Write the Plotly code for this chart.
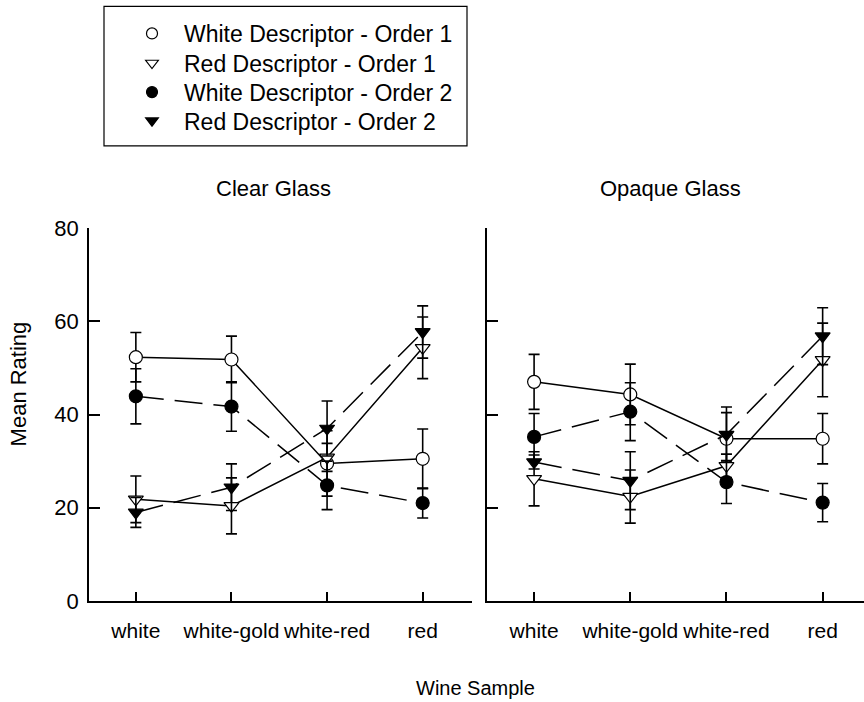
import plotly.graph_objects as go

# Wine samples on the x axis
categories = ["white", "white-gold", "white-red", "red"]

# Mean ratings and error half-widths, clear glass
clear_wd1 = [52.3, 51.8, 29.5, 30.5]
clear_wd1_err = [5.3, 5.0, 7.0, 6.4]
clear_rd1 = [21.8, 20.4, 30.8, 54.3]
clear_rd1_err = [5.0, 6.0, 3.0, 6.6]
clear_wd2 = [43.9, 41.7, 24.8, 21.0]
clear_wd2_err = [5.9, 5.3, 5.2, 3.2]
clear_rd2 = [19.0, 24.4, 37.0, 57.7]
clear_rd2_err = [3.2, 5.0, 5.9, 5.6]

# Mean ratings and error half-widths, opaque glass
opaque_wd1 = [47.0, 44.3, 34.8, 34.8]
opaque_wd1_err = [5.9, 6.5, 5.6, 5.4]
opaque_rd1 = [26.2, 22.4, 29.0, 51.7]
opaque_rd1_err = [5.8, 5.7, 2.5, 7.9]
opaque_wd2 = [35.2, 40.6, 25.5, 21.1]
opaque_wd2_err = [5.0, 6.2, 4.6, 4.1]
opaque_rd2 = [29.8, 25.8, 35.7, 56.8]
opaque_rd2_err = [1.5, 6.2, 5.9, 6.1]

series_names = [
    "White Descriptor - Order 1",
    "Red Descriptor - Order 1",
    "White Descriptor - Order 2",
    "Red Descriptor - Order 2",
]

FONT = "Arial, Liberation Sans, sans-serif"
DASH = "28px,11px"

styles = [
    dict(symbol="circle", fill="white", dash="solid"),
    dict(symbol="triangle-down", fill="white", dash="solid"),
    dict(symbol="circle", fill="black", dash=DASH),
    dict(symbol="triangle-down", fill="black", dash=DASH),
]

panels = [
    ("x", "y", [clear_wd1, clear_rd1, clear_wd2, clear_rd2],
     [clear_wd1_err, clear_rd1_err, clear_wd2_err, clear_rd2_err]),
    ("x2", "y2", [opaque_wd1, opaque_rd1, opaque_wd2, opaque_rd2],
     [opaque_wd1_err, opaque_rd1_err, opaque_wd2_err, opaque_rd2_err]),
]


def px_x(p):
    return (p - 89) / 775


def px_y(p):
    return (601 - p) / 372


fig = go.Figure()

for xa, ya, values, errors in panels:
    for st, vals, errs in zip(styles, values, errors):
        fig.add_trace(go.Scatter(
            x=categories, y=vals, xaxis=xa, yaxis=ya,
            mode="lines+markers",
            line=dict(color="black", width=1.5, dash=st["dash"]),
            marker=dict(symbol=st["symbol"], size=13, color=st["fill"],
                        line=dict(color="black", width=1.2)),
            error_y=dict(type="data", array=errs, color="black",
                         thickness=1.6, width=5.5),
            showlegend=False, cliponaxis=False,
        ))

# Marker-only legend entries, one legend per row for exact row spacing
legend_ids = ["legend", "legend2", "legend3", "legend4"]
legend_rows = [35, 64.5, 93.5, 122]
for st, name, lid in zip(styles, series_names, legend_ids):
    fig.add_trace(go.Scatter(
        x=[None], y=[None], mode="markers", name=name, legend=lid,
        marker=dict(symbol=st["symbol"], size=11, color=st["fill"],
                    line=dict(color="black", width=1.2)),
    ))

legend_layout = {}
for lid, row in zip(legend_ids, legend_rows):
    legend_layout[lid] = dict(
        x=px_x(120), y=px_y(row), xanchor="left", yanchor="middle",
        borderwidth=0, bgcolor="rgba(0,0,0,0)",
        font=dict(family=FONT, size=23, color="black"),
        itemwidth=54,
    )

axis_common = dict(
    showline=True, linecolor="black", linewidth=1.5,
    ticks="inside", tickcolor="black", tickwidth=1.5,
    showgrid=False, zeroline=False,
)
xtick_font = dict(family=FONT, size=21, color="black")
ytick_font = dict(family=FONT, size=22, color="black")

fig.update_layout(
    width=864, height=702,
    margin=dict(l=89, r=0, t=228, b=101),
    paper_bgcolor="white", plot_bgcolor="white",
    font=dict(family=FONT, size=22, color="black"),
    xaxis=dict(domain=[0, 0.4947], range=[-0.49, 3.52], anchor="y",
               ticklen=9, ticklabelstandoff=10, tickangle=0,
               tickfont=xtick_font, **axis_common),
    xaxis2=dict(domain=[0.5135, 1], range=[-0.49, 3.43], anchor="y2",
                ticklen=9, ticklabelstandoff=10, tickangle=0,
                tickfont=xtick_font, **axis_common),
    yaxis=dict(range=[0, 80], tickvals=[0, 20, 40, 60, 80], anchor="x",
               ticklen=11, ticklabelstandoff=4, tickfont=ytick_font,
               **axis_common),
    yaxis2=dict(range=[0, 80], tickvals=[0, 20, 40, 60, 80], anchor="x2",
                ticklen=11, showticklabels=False, **axis_common),
    shapes=[
        dict(type="rect", xref="paper", yref="paper",
             x0=px_x(104), x1=px_x(467), y0=px_y(147), y1=px_y(8),
             line=dict(color="black", width=1.2), fillcolor="rgba(0,0,0,0)"),
    ],
    annotations=[
        dict(text="Clear Glass", x=px_x(273), y=px_y(190), xref="paper",
             yref="paper", xanchor="center", yanchor="middle",
             showarrow=False, font=dict(size=22)),
        dict(text="Opaque Glass", x=px_x(670), y=px_y(190), xref="paper",
             yref="paper", xanchor="center", yanchor="middle",
             showarrow=False, font=dict(size=22)),
        dict(text="Wine Sample", x=px_x(475), y=px_y(688), xref="paper",
             yref="paper", xanchor="center", yanchor="middle",
             showarrow=False, font=dict(size=20)),
        dict(text="Mean Rating", x=px_x(18), y=px_y(385), xref="paper",
             yref="paper", xanchor="center", yanchor="middle",
             showarrow=False, textangle=-90, font=dict(size=22)),
    ],
    **legend_layout,
)

fig.write_html("out.html")
